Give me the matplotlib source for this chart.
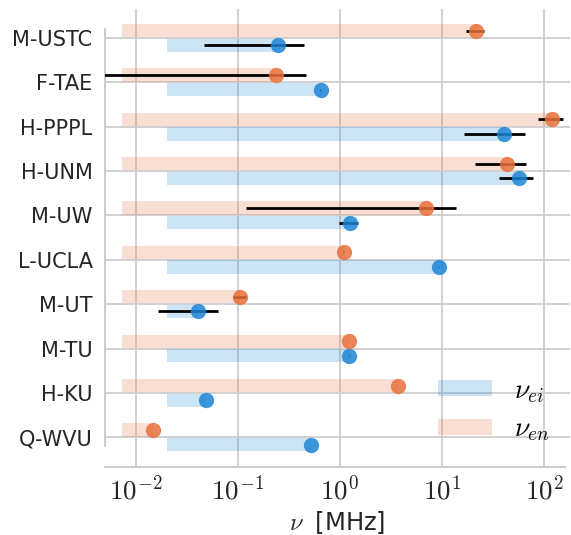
import numpy as np
import matplotlib
matplotlib.use("Agg")
import matplotlib.pyplot as plt
from matplotlib.ticker import FuncFormatter, NullLocator, LogLocator

# collision frequencies per device, MHz
labels = ["M-USTC", "F-TAE", "H-PPPL", "H-UNM", "M-UW",
          "L-UCLA", "M-UT", "M-TU", "H-KU", "Q-WVU"]

nu_ei = [0.25, 0.65, 40.8, 57.3, 1.25, 9.27, 0.0408, 1.24, 0.0489, 0.52]
nu_ei_lo = [0.047, 0.646, 16.4, 35.9, 0.99, 9.22, 0.0164, 1.233, 0.0487, 0.518]
nu_ei_hi = [0.45, 0.654, 65.6, 78.5, 1.52, 9.32, 0.0646, 1.247, 0.0491, 0.522]

nu_en = [21.7, 0.237, 121.0, 43.3, 6.97, 1.09, 0.104, 1.23, 3.7, 0.0148]
nu_en_lo = [17.2, 0.003, 87.0, 21.2, 0.121, 1.084, 0.0906, 1.224, 3.68, 0.01473]
nu_en_hi = [26.1, 0.47, 155.0, 66.0, 13.8, 1.096, 0.12, 1.236, 3.72, 0.01487]

bar_start_ei = 0.0203
bar_start_en = 0.0073

BLUE = "#1c84d4"
ORANGE = "#e8703a"
TEXT = "#262626"
GRID = "#cccccc"

plt.rcParams["font.family"] = ["DejaVu Sans"]
plt.rcParams["mathtext.fontset"] = "cm"

fig = plt.figure(figsize=(5.71, 5.35), dpi=100)
W, H = 571, 535
ax = fig.add_axes([105 / W, 1 - 467 / H, (570 - 105) / W, (467 - 9) / H])

y = np.arange(len(labels))
off = 0.165
bh = 0.3

ei = np.array(nu_ei)
en = np.array(nu_en)

ax.barh(y + off, ei - bar_start_ei, left=bar_start_ei, height=bh,
        color=BLUE, alpha=0.22, lw=0, label=r"$\nu_{ei}$", zorder=1)
ax.barh(y - off, en - bar_start_en, left=bar_start_en, height=bh,
        color=ORANGE, alpha=0.22, lw=0, label=r"$\nu_{en}$", zorder=1)

ax.errorbar(ei, y + off,
            xerr=[ei - np.array(nu_ei_lo), np.array(nu_ei_hi) - ei],
            fmt="none", ecolor="black", elinewidth=2.0, capsize=0, zorder=3)
ax.errorbar(en, y - off,
            xerr=[en - np.array(nu_en_lo), np.array(nu_en_hi) - en],
            fmt="none", ecolor="black", elinewidth=2.0, capsize=0, zorder=3)

ax.plot(ei, y + off, "o", color=BLUE, ms=11, mew=0, alpha=0.85, zorder=4)
ax.plot(en, y - off, "o", color=ORANGE, ms=11, mew=0, alpha=0.85, zorder=4)

ax.set_xscale("log")
ax.set_xlim(0.005, 180)
ax.set_ylim(9.67, -0.65)

ax.xaxis.set_major_locator(LogLocator(base=10, numticks=10))
ax.xaxis.set_minor_locator(NullLocator())
ax.xaxis.set_major_formatter(FuncFormatter(lambda v, p: r"$10^{%d}$" % round(np.log10(v))))
ax.set_yticks(y)
ax.set_yticklabels(labels)

ax.tick_params(axis="both", length=0, colors=TEXT)
ax.tick_params(axis="y", labelsize=15, pad=9)
ax.tick_params(axis="x", labelsize=19.5, pad=6)

ax.grid(True, color=GRID, lw=1.25)
ax.set_axisbelow(True)

for side in ["top", "right"]:
    ax.spines[side].set_visible(False)
for side in ["left", "bottom"]:
    ax.spines[side].set_color(GRID)
    ax.spines[side].set_linewidth(1.5)
ax.spines["left"].set_bounds(9.2, -0.2)
ax.spines["bottom"].set_bounds(0.005, 160)

ax.set_xlabel(r"$\nu\;$ [MHz]", fontsize=17.5, color=TEXT, labelpad=3)

ax.legend(loc="center left", bbox_to_anchor=(0.686, 0.125), frameon=False,
          fontsize=20, borderpad=0, handlelength=1.94, handleheight=0.49,
          handletextpad=0.8, labelspacing=0.35)

fig.savefig("out.png", dpi=100)
